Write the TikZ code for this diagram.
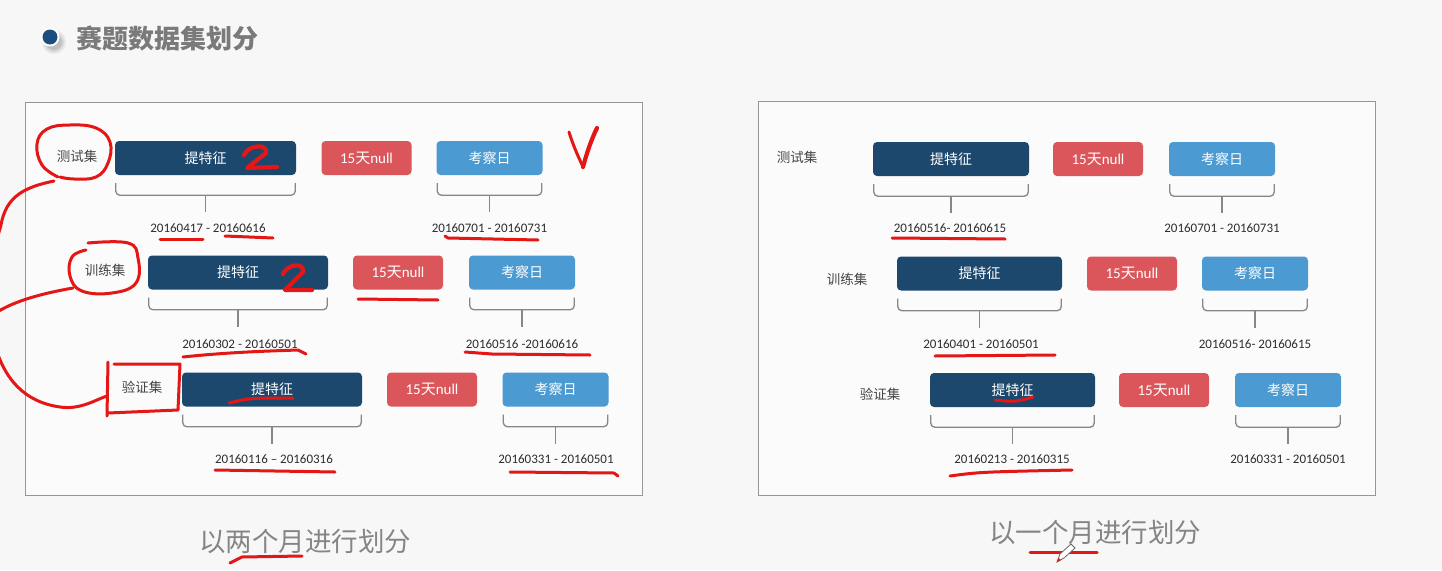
\documentclass[tikz,border=0pt]{standalone}
\usepackage{fontspec}
\setmainfont{Noto Sans CJK SC}
\newfontfamily\carl{Carlito}
\usetikzlibrary{calc}
\definecolor{navy}{RGB}{29,72,110}
\definecolor{gapred}{RGB}{218,86,90}
\definecolor{obsblue}{RGB}{76,154,210}
\definecolor{labgray}{RGB}{70,70,70}
\definecolor{dategray}{RGB}{45,45,45}
\definecolor{bracegray}{RGB}{135,135,135}
\definecolor{framegray}{RGB}{150,150,150}
\definecolor{pagebg}{RGB}{247,247,247}
\definecolor{panelbg}{RGB}{251,251,251}
\definecolor{penred}{RGB}{228,22,22}
\definecolor{dotblue}{RGB}{27,78,124}

% brace under a box, with its stem
\newcommand\boxbrace[1]{%
  \draw[brc] ($(#1.south west)+(1,8)$) -- ($(#1.south west)+(1,20)$)
    -- ($(#1.south east)+(-1,20)$) -- ($(#1.south east)+(-1,8)$);
  \draw[brc] ($(#1.south)+(0,20)$) -- ($(#1.south)+(0,37)$);}

\begin{document}
\begin{tikzpicture}[x=1pt,y=-1pt,
  boxbase/.style={rounded corners=4pt, minimum height=34pt, text=white, inner sep=0pt,
    font=\fontsize{14}{16}\selectfont},
  feat/.style={boxbase, fill=navy},
  gap/.style={boxbase, fill=gapred, minimum width=90pt, font=\carl\fontsize{15}{17}\selectfont},
  obs/.style={boxbase, fill=obsblue, minimum width=106pt},
  setlabel/.style={text=labgray, font=\fontsize{13.5}{16}\selectfont, inner sep=1pt},
  datetxt/.style={text=dategray, font=\carl\fontsize{13}{15}\selectfont, inner sep=1pt},
  brc/.style={draw=bracegray, line width=1.3pt, rounded corners=4pt},
  panel/.style={draw=framegray, line width=1pt, fill=panelbg},
  caption/.style={text=black!48, font=\fontsize{26.5}{30}\selectfont, anchor=west, inner sep=0pt},
  hand/.style={draw=penred, line width=3pt, line cap=round, line join=round},
  digit/.style={hand, line width=4.2pt},
]
\useasboundingbox (0,0) rectangle (1442,570);
\clip (0,0) rectangle (1442,570);
\fill[pagebg] (0,0) rectangle (1442,570);

% heading
\foreach \r/\o in {12/0.06,10/0.08,8/0.1}{\fill[black, opacity=\o] (54,42) circle (\r);}
\fill[white] (50,37) circle (9.5);
\node[circle, fill=dotblue, minimum size=15pt, inner sep=0pt] (dot) at (50,37) {};
\node[anchor=west, inner sep=0pt, text=black!52, font=\bfseries\fontsize{26}{30}\selectfont] (title) at (76,38) {赛题数据集划分};

% panels
\draw[panel] (25,102) rectangle (642,495);
\draw[panel] (758,101) rectangle (1375,495);

% ---- left panel: two-month split ----
\node[setlabel] (lt) at (77,156) {测试集};
\node[feat, minimum width=181pt] (lf1) at (205.5,158) {提特征};
\node[gap] (lg1) at (366.5,158) {15{\rmfamily 天}null};
\node[obs] (lo1) at (489.5,158) {考察日};
\node[setlabel] (lr) at (105,270) {训练集};
\node[feat, minimum width=180pt] (lf2) at (238,272.5) {提特征};
\node[gap] (lg2) at (398,272.5) {15{\rmfamily 天}null};
\node[obs] (lo2) at (522,272.5) {考察日};
\node[setlabel] (lv) at (142,387) {验证集};
\node[feat, minimum width=180pt] (lf3) at (272,389.5) {提特征};
\node[gap] (lg3) at (432,389.5) {15{\rmfamily 天}null};
\node[obs] (lo3) at (555.5,389.5) {考察日};

\foreach \b in {lf1,lo1,lf2,lo2,lf3,lo3}{\boxbrace{\b}}
\node[datetxt] (ld1) at (208,228) {20160417 - 20160616};
\node[datetxt] (le1) at (489.5,228) {20160701 - 20160731};
\node[datetxt] (ld2) at (240,344) {20160302 - 20160501};
\node[datetxt] (le2) at (522,344) {20160516 -20160616};
\node[datetxt] (ld3) at (274,459) {20160116 – 20160316};
\node[datetxt] (le3) at (556,459) {20160331 - 20160501};

% ---- right panel: one-month split ----
\node[setlabel] (rt) at (797,157) {测试集};
\node[feat, minimum width=156pt] (rf1) at (951,159) {提特征};
\node[gap] (rg1) at (1098,159) {15{\rmfamily 天}null};
\node[obs] (ro1) at (1222,159) {考察日};
\node[setlabel] (rr) at (847,279) {训练集};
\node[feat, minimum width=165pt] (rf2) at (979.5,273.5) {提特征};
\node[gap] (rg2) at (1132,273.5) {15{\rmfamily 天}null};
\node[obs] (ro2) at (1255,273.5) {考察日};
\node[setlabel] (rv) at (880,394) {验证集};
\node[feat, minimum width=165pt] (rf3) at (1012.5,390) {提特征};
\node[gap] (rg3) at (1164,390) {15{\rmfamily 天}null};
\node[obs] (ro3) at (1288,390) {考察日};

\foreach \b in {rf1,ro1,rf2,ro2,rf3,ro3}{\boxbrace{\b}}
\node[datetxt] (rd1) at (950,228) {20160516- 20160615};
\node[datetxt] (re1) at (1222,228) {20160701 - 20160731};
\node[datetxt] (rd2) at (981,344) {20160401 - 20160501};
\node[datetxt] (re2) at (1255,344) {20160516- 20160615};
\node[datetxt] (rd3) at (1012,459) {20160213 - 20160315};
\node[datetxt] (re3) at (1288,459) {20160331 - 20160501};

% captions
\node[caption] (capl) at (199,541) {以两个月进行划分};
\node[caption] (capr) at (989,532) {以一个月进行划分};

% ---- pen marks ----
% rings round the set names and the strokes joining them
\draw[hand] plot[smooth, tension=0.7] coordinates {(58,177) (42,165) (37,144) (47,129) (70,125) (96,128) (110,142) (108,163) (96,177) (74,179) (60,177)};
\draw[hand] (54,181) .. controls (25,187) and (6,196) .. (1,225) .. controls (-2,238) .. (-6,250);
\draw[hand] plot[smooth, tension=0.7] coordinates {(88,243) (128,243) (138,258) (136,283) (112,293) (82,291) (70,276) (72,257) (86,250)};
\draw[hand] (73,288) .. controls (45,293) and (15,300) .. (-6,314);
\draw[hand] (-6,342) .. controls (4,380) and (25,402) .. (60,407) .. controls (80,410) and (95,400) .. (107,396);
\draw[hand] (108,362) -- (107,416);
\draw[hand] (114,364) -- (180,364) -- (178,410) -- (108,413);
% figure 2 on the feature boxes
\draw[digit] (244,155) .. controls (248,145) and (268,143) .. (266,153) -- (247,168) -- (277,167);
\draw[digit] (283,274) .. controls (287,264) and (305,262) .. (303,272) -- (285,290) -- (312,290);
% tick
\draw[hand] (569,132) .. controls (574,148) and (579,158) .. (583,167);
\draw[digit] (583,167) .. controls (587,152) and (592,138) .. (597,128);
% underlines, left panel
\draw[hand] (160,239) -- (203,239);
\draw[hand] (225,236) -- (273,238);
\draw[hand] (445,236) -- (448,238) -- (538,240);
\draw[hand] (358,299) -- (438,300);
\draw[hand] (183,357) .. controls (230,352) and (270,351) .. (298,350) -- (306,354);
\draw[hand] (465,352) -- (492,354) -- (590,355);
\draw[hand] (229,403) .. controls (250,398) .. (293,398);
\draw[hand] (215,470) -- (335,472);
\draw[hand] (510,472) -- (614,473) -- (618,476);
% underlines, right panel
\draw[hand] (892,238) -- (1005,239);
\draw[hand] (935,356) -- (1055,355);
\draw[hand] (995,400) .. controls (1015,402) .. (1033,397);
\draw[hand] (950,476) .. controls (980,472) .. (1072,470);
% underlines, captions
\draw[hand] (230,563) -- (242,557) -- (302,556);
\draw[hand] (1030,552) -- (1097,552);
% pen pointer
\draw[black!60, line width=0.8pt, fill=white] (1057,562) -- (1060,554) -- (1071,544) -- (1075,548) -- (1064,558) -- cycle;
\fill[penred] (1057,562) -- (1058.5,558) -- (1061,560) -- cycle;
\end{tikzpicture}
\end{document}
